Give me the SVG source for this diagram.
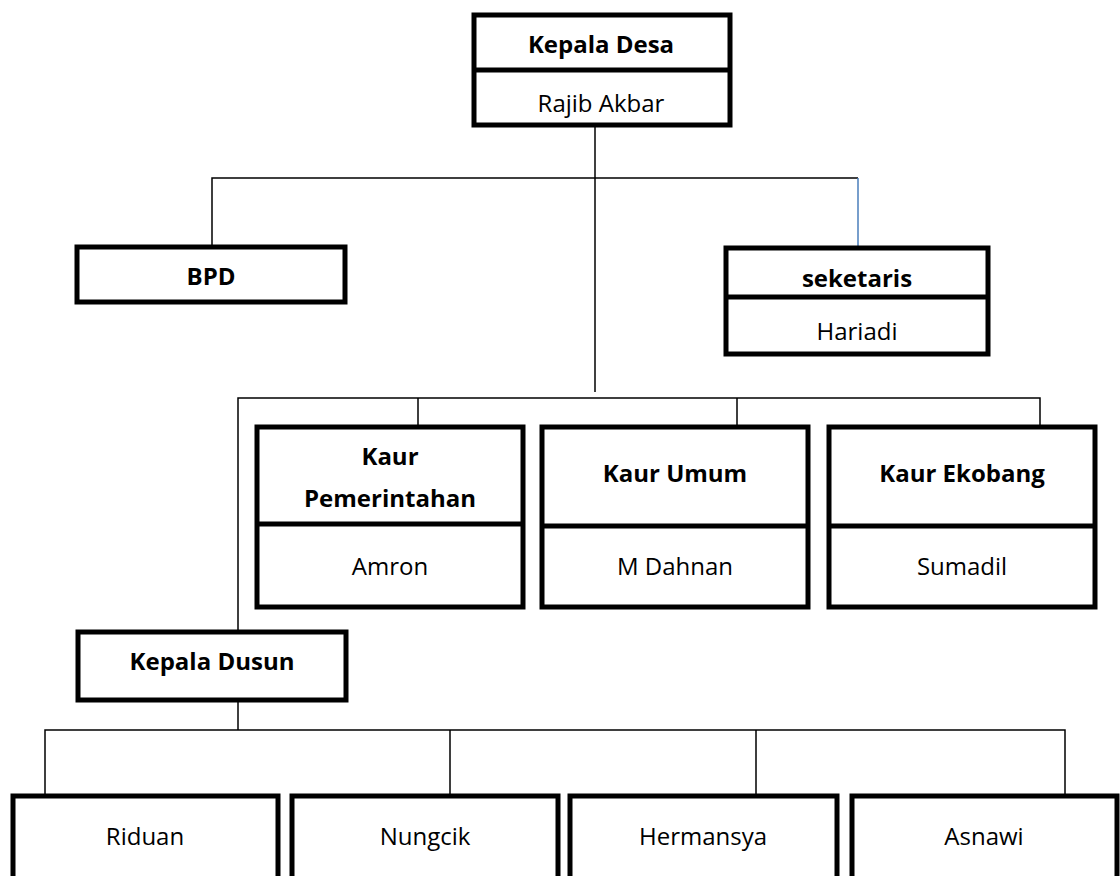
<svg xmlns="http://www.w3.org/2000/svg" width="1120" height="876" viewBox="0 0 1120 876">
<style>
.box{fill:#fff;stroke:#000;stroke-width:5}
.div{stroke:#000;stroke-width:5}
.ln{stroke:#000;stroke-width:1.5;fill:none}
.b{font-family:"Open Sans","Liberation Sans",sans-serif;font-size:24px;font-weight:700;text-anchor:middle;fill:#000}
.r{font-family:"Open Sans","Liberation Sans",sans-serif;font-size:24px;text-anchor:middle;fill:#000}
</style>
<rect width="1120" height="876" fill="#fff"/>
<g id="connectors">
<path class="ln" d="M595,127 V392"/>
<path class="ln" d="M212,245 V178 H858"/>
<path d="M858,178 V246" stroke="#4a7ebb" stroke-width="1.5" fill="none"/>
<path class="ln" d="M238,630 V398 H1040 V425"/>
<path class="ln" d="M418,398 V425 M737,398 V425"/>
<path class="ln" d="M238,702 V730"/>
<path class="ln" d="M45,794 V730 H1065 V794 M450,730 V794 M756,730 V794"/>
</g>
<g id="kepala-desa">
<rect class="box" x="474" y="15" width="256" height="110"/>
<line class="div" x1="474" y1="70" x2="730" y2="70"/>
<text class="b" x="601" y="53">Kepala Desa</text>
<text class="r" x="601" y="112">Rajib Akbar</text>
</g>
<g id="bpd">
<rect class="box" x="77" y="247" width="268" height="55"/>
<text class="b" x="211" y="285">BPD</text>
</g>
<g id="seketaris">
<rect class="box" x="726" y="248" width="262" height="106"/>
<line class="div" x1="726" y1="297" x2="988" y2="297"/>
<text class="b" x="857" y="287">seketaris</text>
<text class="r" x="857" y="340">Hariadi</text>
</g>
<g id="kaur-pemerintahan">
<rect class="box" x="257" y="427" width="266" height="180"/>
<line class="div" x1="257" y1="524" x2="523" y2="524"/>
<text class="b" x="390" y="465">Kaur</text>
<text class="b" x="390" y="507">Pemerintahan</text>
<text class="r" x="390" y="575">Amron</text>
</g>
<g id="kaur-umum">
<rect class="box" x="542" y="427" width="266" height="180"/>
<line class="div" x1="542" y1="526" x2="808" y2="526"/>
<text class="b" x="675" y="482">Kaur Umum</text>
<text class="r" x="675" y="575">M Dahnan</text>
</g>
<g id="kaur-ekobang">
<rect class="box" x="829" y="427" width="266" height="180"/>
<line class="div" x1="829" y1="526" x2="1095" y2="526"/>
<text class="b" x="962" y="482">Kaur Ekobang</text>
<text class="r" x="962" y="575">Sumadil</text>
</g>
<g id="kepala-dusun">
<rect class="box" x="78" y="632" width="268" height="68"/>
<text class="b" x="212" y="670">Kepala Dusun</text>
</g>
<g id="riduan">
<rect class="box" x="13" y="796" width="265" height="100"/>
<text class="r" x="145" y="845">Riduan</text>
</g>
<g id="nungcik">
<rect class="box" x="292" y="796" width="266" height="100"/>
<text class="r" x="425" y="845">Nungcik</text>
</g>
<g id="hermansya">
<rect class="box" x="570" y="796" width="267" height="100"/>
<text class="r" x="703" y="845">Hermansya</text>
</g>
<g id="asnawi">
<rect class="box" x="852" y="796" width="265" height="100"/>
<text class="r" x="984" y="845">Asnawi</text>
</g>
</svg>
